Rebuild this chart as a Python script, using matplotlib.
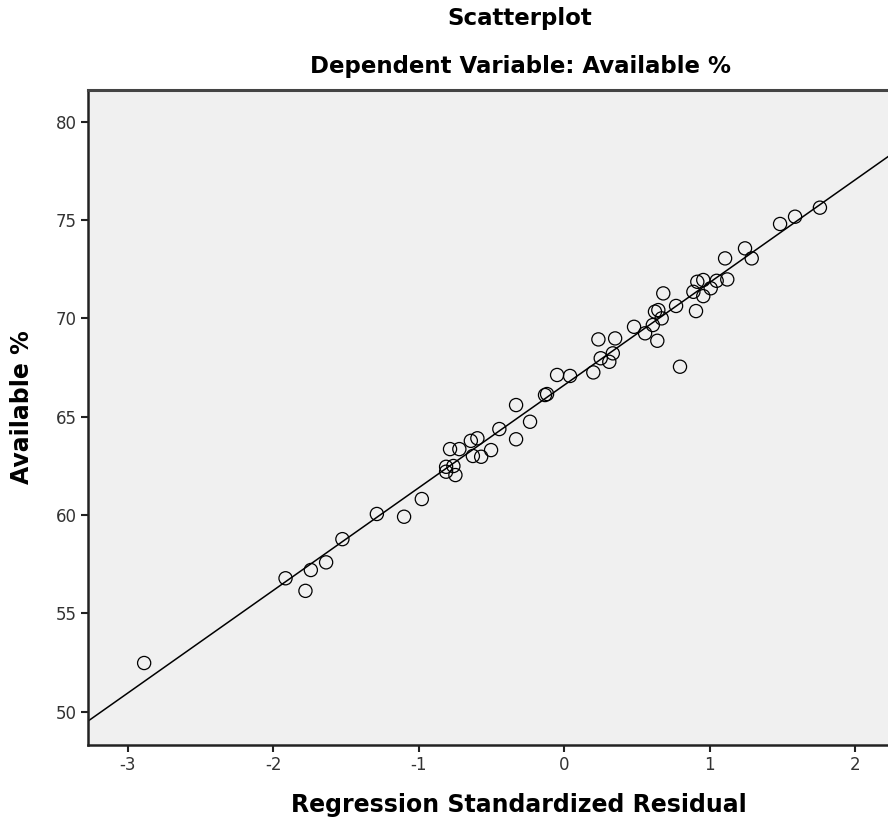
import numpy as np
import matplotlib
matplotlib.use('Agg')
import matplotlib.pyplot as plt

# Regression standardized residual vs Available %
residual = [-2.887, -1.915, -1.778, -1.741, -1.636, -1.524, -1.287, -1.100, -0.978,
            -0.811, -0.811, -0.761, -0.747, -0.784, -0.720, -0.641, -0.596, -0.627,
            -0.570, -0.502, -0.445, -0.330, -0.330, -0.234, -0.131, -0.117, -0.048,
            0.041, 0.201, 0.236, 0.351, 0.252, 0.311, 0.335, 0.481, 0.557, 0.610,
            0.641, 0.797, 0.625, 0.648, 0.671, 0.682, 0.770, 0.907, 0.889, 0.916,
            0.957, 0.957, 1.008, 1.049, 1.122, 1.107, 1.244, 1.290, 1.485, 1.588, 1.759]
available = [52.47, 56.78, 56.14, 57.20, 57.59, 58.77, 60.05, 59.91, 60.81,
             62.45, 62.20, 62.49, 62.03, 63.35, 63.35, 63.77, 63.90, 63.00,
             62.96, 63.30, 64.37, 65.59, 63.85, 64.74, 66.10, 66.15, 67.12,
             67.07, 67.25, 68.93, 68.98, 67.97, 67.79, 68.22, 69.57, 69.24, 69.66,
             68.86, 67.54, 70.34, 70.42, 70.00, 71.27, 70.63, 70.37, 71.35, 71.86,
             71.95, 71.13, 71.53, 71.91, 71.98, 73.05, 73.56, 73.05, 74.80, 75.17, 75.63]

# fit line (intercept, slope)
fit_intercept = 66.6
fit_slope = 5.22

x_ticks = [-3, -2, -1, 0, 1, 2]
x_labels = ['-3', '-2', '-1', '0', '1', '2']
y_ticks = [50, 55, 60, 65, 70, 75, 80]

fig = plt.figure(figsize=(8.88, 8.24), dpi=100)
ax = fig.add_axes([88/888, 79/824, 1 - 88/888, (745 - 89.5)/824])
ax.set_facecolor('#f0f0f0')

xlim = (-3.273, 2.227)
ylim = (48.3, 81.64)
ax.set_xlim(xlim)
ax.set_ylim(ylim)

xs = np.array(xlim)
ax.plot(xs, fit_intercept + fit_slope * xs, color='black', linewidth=1.1, zorder=2)
ax.scatter(residual, available, s=90, facecolors='none', edgecolors='black',
           linewidths=0.9, zorder=3)

ax.set_xticks(x_ticks)
ax.set_yticks(y_ticks)
ax.set_xticklabels(x_labels)
ax.tick_params(direction='out', length=5, width=1.5, labelsize=12, colors='#222222',
               pad=3)
for lbl in ax.get_xticklabels() + ax.get_yticklabels():
    lbl.set_color('#333333')

for side in ['left', 'bottom']:
    ax.spines[side].set_linewidth(1.8)
    ax.spines[side].set_color('#222222')
ax.spines['top'].set_linewidth(2.2)
ax.spines['top'].set_color('#444444')
ax.spines['right'].set_visible(False)

fig.text(520/888, 1 - 18/824, 'Scatterplot', ha='center', va='center',
         fontsize=16.5, fontweight='bold')
fig.text(520/888, 1 - 66/824, 'Dependent Variable: Available %', ha='center',
         va='center', fontsize=16.5, fontweight='bold')
fig.text(519/888, 1 - 805/824, 'Regression Standardized Residual', ha='center',
         va='center', fontsize=17, fontweight='bold')
fig.text(22/888, 1 - 407/824, 'Available %', ha='center', va='center',
         rotation=90, fontsize=17, fontweight='bold')

fig.savefig('out.png', dpi=100)
